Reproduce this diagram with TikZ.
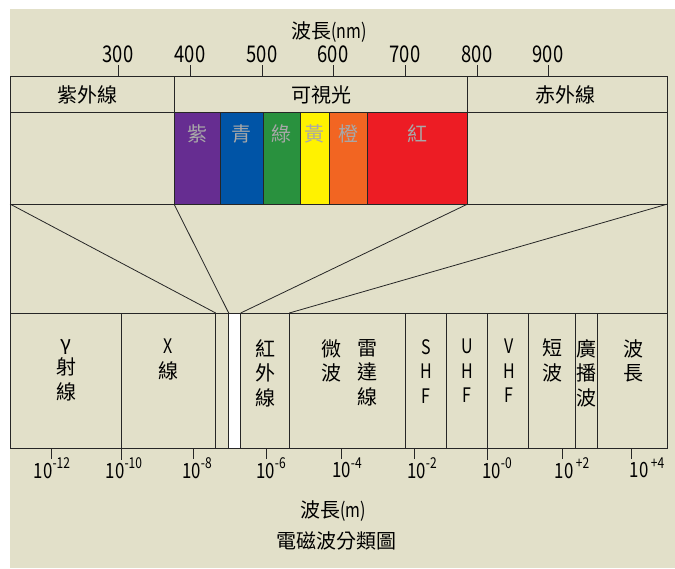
\documentclass[tikz,border=0pt]{standalone}
\usepackage{fontspec}
\setmainfont{Noto Sans CJK TC}
\newfontfamily\numfont[FakeStretch=0.8]{Noto Sans CJK TC}
\definecolor{paper}{RGB}{226,224,201}
\definecolor{lineclr}{RGB}{38,38,38}
\definecolor{violetband}{RGB}{102,45,145}
\definecolor{blueband}{RGB}{0,84,166}
\definecolor{greenband}{RGB}{41,145,62}
\definecolor{yellowband}{RGB}{255,242,0}
\definecolor{orangeband}{RGB}{242,101,34}
\definecolor{redband}{RGB}{237,28,36}
\definecolor{hueword}{RGB}{168,168,168}
\newcommand\tenpow[1]{10\raisebox{0.45em}{\fontsize{15}{15}\selectfont#1}}

\begin{document}
\begin{tikzpicture}[
  x=1pt, y=-1pt,
  rule/.style={draw=lineclr, line width=0.8pt},
  tickmark/.style={draw=lineclr, line width=0.8pt},
  colourband/.style={draw=lineclr, line width=0.7pt},
  nmlabel/.style={font=\numfont\fontsize{23}{23}\selectfont, inner sep=0pt},
  powlabel/.style={font=\numfont\fontsize{21}{21}\selectfont, inner sep=0pt},
  region/.style={font=\fontsize{20}{20}\selectfont, inner sep=0pt},
  hue/.style={font=\fontsize{20}{20}\selectfont, text=hueword, inner sep=0pt},
  wave/.style={font=\fontsize{20}{24.5}\selectfont, align=center, anchor=north, inner sep=0pt},
  caption/.style={font=\fontsize{20}{20}\selectfont, inner sep=0pt}
]
  \useasboundingbox (0,0) rectangle (675,568);
  \fill[paper] (10,9) rectangle (675,568);

  % colour bands of the visible light
  \filldraw[colourband, fill=violetband] (174,112) rectangle (220,204);
  \filldraw[colourband, fill=blueband] (220,112) rectangle (263,204);
  \filldraw[colourband, fill=greenband] (263,112) rectangle (300,204);
  \filldraw[colourband, fill=yellowband] (300,112) rectangle (329,204);
  \filldraw[colourband, fill=orangeband] (329,112) rectangle (367,204);
  \filldraw[colourband, fill=redband] (367,112) rectangle (467.7,204);
  \node[hue] (violet) at (197,134) {紫};
  \node[hue] (blue) at (241.5,134) {青};
  \node[hue] (green) at (281.5,134) {綠};
  \node[hue] (yellow) at (314.5,134) {黃};
  \node[hue] (orange) at (348,134) {橙};
  \node[hue] (red) at (417,134) {紅};

  % frame and rows
  \fill[white] (228.7,313) rectangle (240.7,448);
  \draw[rule] (10,76) rectangle (667.7,448);
  \draw[rule] (10,112) -- (667.7,112);
  \draw[rule] (10,204) -- (667.7,204);
  \draw[rule] (10,313) -- (667.7,313);
  \draw[rule] (174,76) -- (174,112);
  \draw[rule] (467.7,76) -- (467.7,112);

  % fan from the top scale to the bottom scale
  \coordinate (uvleft) at (10,204);
  \coordinate (visleft) at (174,204);
  \coordinate (visright) at (467.7,204);
  \coordinate (irright) at (667.7,204);
  \coordinate (uvfoot) at (215.7,313);
  \coordinate (visfootl) at (228.7,313);
  \coordinate (visfootr) at (240.7,313);
  \coordinate (irfoot) at (289.3,313);
  \draw[rule] (uvleft) -- (uvfoot);
  \draw[rule] (visleft) -- (visfootl);
  \draw[rule] (visright) -- (visfootr);
  \draw[rule] (irright) -- (irfoot);

  % dividers of the lower band
  \foreach \x in {215.7,228.7,240.7,289.3,405.3,446,528,575,597.3}
    \draw[rule] (\x,313) -- (\x,448);
  \draw[rule] (121.7,313) -- (121.7,460);
  \draw[rule] (487.7,313) -- (487.7,460);

  % nm scale
  \node[region] (axisnm) at (329,32) {波長{\numfont (nm)}};
  \foreach \x/\nm in {118/300,190/400,262/500,333/600,405/700,477/800,548/900} {
    \draw[tickmark] (\x,65) -- (\x,76);
    \node[nmlabel] (nm\nm) at (\x,54) {\nm};
  }
  \node[region] (uv) at (87,95) {紫外線};
  \node[region] (visible) at (321,95) {可視光};
  \node[region] (ir) at (565,95) {赤外線};

  % lower band labels
  \node[wave] (gamma) at (66,339) {γ\\射\\線};
  \node[wave] (xray) at (168,339) {{\numfont X}\\線};
  \node[wave] (infra) at (265,339) {紅\\外\\線};
  \node[wave] (micro) at (331,339) {微\\波};
  \node[wave] (radar) at (367,339) {雷\\達\\線};
  \node[wave, font=\numfont\fontsize{20}{24.5}\selectfont] (shf) at (426,339) {S\\H\\F};
  \node[wave, font=\numfont\fontsize{20}{24.5}\selectfont] (uhf) at (467,339) {U\\H\\F};
  \node[wave, font=\numfont\fontsize{20}{24.5}\selectfont] (vhf) at (509,339) {V\\H\\F};
  \node[wave] (short) at (552,339) {短\\波};
  \node[wave] (bcast) at (586,339) {廣\\播\\波};
  \node[wave] (long) at (633,339) {波\\長};

  % metre scale
  \foreach \x in {51,193.3,266.7,341,414,562.3,631.7}
    \draw[tickmark] (\x,448) -- (\x,459);
  \node[powlabel] (p12) at (52,468) {\tenpow{-12}};
  \node[powlabel] (p10) at (124,468) {\tenpow{-10}};
  \node[powlabel] (p8) at (197,468) {\tenpow{-8}};
  \node[powlabel] (p6) at (271,468) {\tenpow{-6}};
  \node[powlabel] (p4) at (347,468) {\tenpow{-4}};
  \node[powlabel] (p2) at (422,468) {\tenpow{-2}};
  \node[powlabel] (p0) at (497,468) {\tenpow{-0}};
  \node[powlabel] (q2) at (572,468) {\tenpow{\,+2}};
  \node[powlabel] (q4) at (647,468) {\tenpow{\,+4}};

  \node[caption] (axism) at (333,511) {波長{\numfont (m)}};
  \node[caption] (title) at (336,541) {電磁波分類圖};
\end{tikzpicture}
\end{document}
